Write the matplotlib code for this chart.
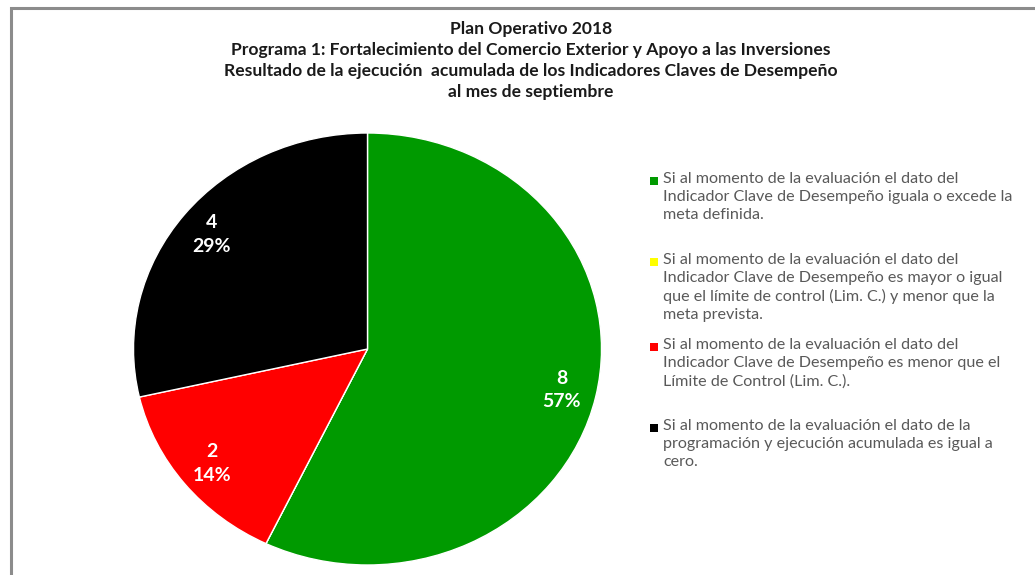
import matplotlib
matplotlib.use("Agg")
import matplotlib.pyplot as plt
from matplotlib.patches import Rectangle

# data
cantidades = [8, 0, 2, 4]
colores = ['#009a00', '#ffff00', '#ff0000', '#000000']
leyendas = [
    "Si al momento de la evaluación el dato del\nIndicador Clave de Desempeño iguala o excede la\nmeta definida.",
    "Si al momento de la evaluación el dato del\nIndicador Clave de Desempeño es mayor o igual\nque el límite de control (Lim. C.) y menor que la\nmeta prevista.",
    "Si al momento de la evaluación el dato del\nIndicador Clave de Desempeño es menor que el\nLímite de Control (Lim. C.).",
    "Si al momento de la evaluación el dato de la\nprogramación y ejecución acumulada es igual a\ncero.",
]
titulo = ("Plan Operativo 2018\n"
          "Programa 1: Fortalecimiento del Comercio Exterior y Apoyo a las Inversiones\n"
          "Resultado de la ejecución  acumulada de los Indicadores Claves de Desempeño\n"
          "al mes de septiembre")

plt.rcParams['font.family'] = ['Lato', 'DejaVu Sans']

W, H = 1035, 575
fig = plt.figure(figsize=(W / 100, H / 100), dpi=100)
fig.patch.set_facecolor('white')

# marco del grafico (se sale por la derecha y abajo)
fig.patches.append(Rectangle((11 / W, -0.05), 1.1, 1 - 8 / H + 0.05,
                             transform=fig.transFigure, fill=False,
                             edgecolor='#8c8c8c', linewidth=2.2))

total = float(sum(cantidades))


def etiqueta(pct):
    n = int(round(pct * total / 100.0))
    if n == 0:
        return ''
    return '%d\n%d%%' % (n, round(pct))


cx, cy, rx, ry = 367.5, 349, 234, 216
ax = fig.add_axes([(cx - rx) / W, (H - cy - ry) / H, 2 * rx / W, 2 * ry / H])
wedges, nombres, textos = ax.pie(cantidades, colors=colores, startangle=90,
                                 counterclock=False, autopct=etiqueta,
                                 pctdistance=0.85, radius=1,
                                 wedgeprops=dict(edgecolor='white', linewidth=1))
for t in textos:
    t.set_color('white')
    t.set_fontsize(14)
    t.set_fontweight('bold')
    t.set_linespacing(1.45)
ax.set_aspect('auto')
ax.set_xlim(-1, 1)
ax.set_ylim(-1, 1)
ax.axis('off')

fig.text(531 / W, 1 - 21 / H, titulo, ha='center', va='top', fontsize=12.6,
         fontweight='bold', color='#1a1a1a', linespacing=1.38)

# leyenda
ley = fig.add_axes([0, 0, 1, 1])
ley.set_xlim(0, W)
ley.set_ylim(H, 0)
ley.axis('off')
filas = [180, 261, 346, 427]
for i in range(len(cantidades)):
    y = filas[i]
    ley.scatter([654], [y + 1], marker='s', s=26, color=colores[i], linewidths=0)
    ley.text(663, y - 8, leyendas[i], ha='left', va='top', fontsize=11.6,
             color='#595959', linespacing=1.36)

fig.savefig('out.png', dpi=100, facecolor='white')
